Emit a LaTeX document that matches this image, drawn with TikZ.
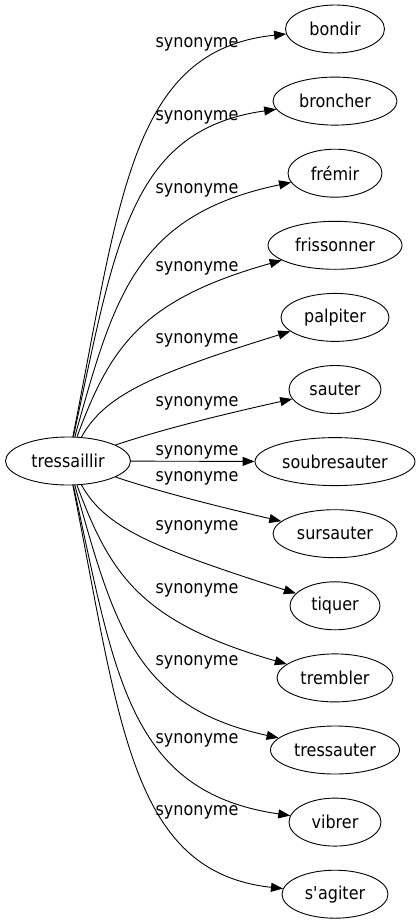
\documentclass[tikz,border=0pt]{standalone}
\usepackage{fontspec}
\setmainfont{DejaVu Sans}[FakeStretch=0.9]
\usetikzlibrary{arrows.meta,shapes.geometric}

\tikzset{
  wort/.style={draw, ellipse, line width=0.9pt, inner sep=0pt, minimum height=48pt, font=\fontsize{17.8}{20}\selectfont},
  pfeil/.style={-{Triangle[length=12pt,width=9pt]}, line width=0.9pt},
  beschriftung/.style={font=\fontsize{17.8}{20}\selectfont, inner sep=0pt}
}

\begin{document}
\begin{tikzpicture}[x=1pt,y=-1pt]

  \useasboundingbox (0,0) rectangle (420,923);  %Rand

  \node[wort, minimum width=125pt] (tressaillir) at (68,461) {tressaillir};  %Ausgangswort

  \foreach \name/\text/\breite/\k in {bondir/bondir/99/0,  %\k ist die Zeile
                                      broncher/broncher/124/1,
                                      fremir/frémir/94/2,
                                      frissonner/frissonner/134/3,
                                      palpiter/palpiter/108/4,
                                      sauter/sauter/92/5,
                                      soubresauter/soubresauter/160/6,
                                      sursauter/sursauter/124/7,
                                      tiquer/tiquer/90/8,
                                      trembler/trembler/116/9,
                                      tressauter/tressauter/129/10,
                                      vibrer/vibrer/92/11,
                                      sagiter/s\textquotesingle agiter/106/12}
    \node[wort, minimum width=\breite pt] (\name) at (335,29+72.1*\k) {\text};  %Synonyme rechts

  \draw[pfeil] (tressaillir) -- (soubresauter)
    node[beschriftung] at (197,452) {synonyme};  %gerade Kante

  \foreach \name/\ax/\ay/\bx/\by/\ly in {bondir/120/200/130/50/44,  %obere Kanten
                                         broncher/115/247/128/130/117,
                                         fremir/114/297/135/215/190,
                                         frissonner/110/348/140/300/268,
                                         palpiter/105/395/150/375/340,
                                         sauter/160/430/220/415/403,
                                         sursauter/160/492/220/507/478,  %untere Kanten
                                         tiquer/105/527/150/547/527,
                                         trembler/110/574/140/622/590,
                                         tressauter/114/625/135/707/662,
                                         vibrer/115/675/128/792/740,
                                         sagiter/120/722/130/872/812}
    \draw[pfeil] (tressaillir) .. controls (\ax,\ay) and (\bx,\by) .. (\name)
      node[beschriftung] at (197,\ly) {synonyme};  %Beschriftung der Kanten

\end{tikzpicture}
\end{document}
